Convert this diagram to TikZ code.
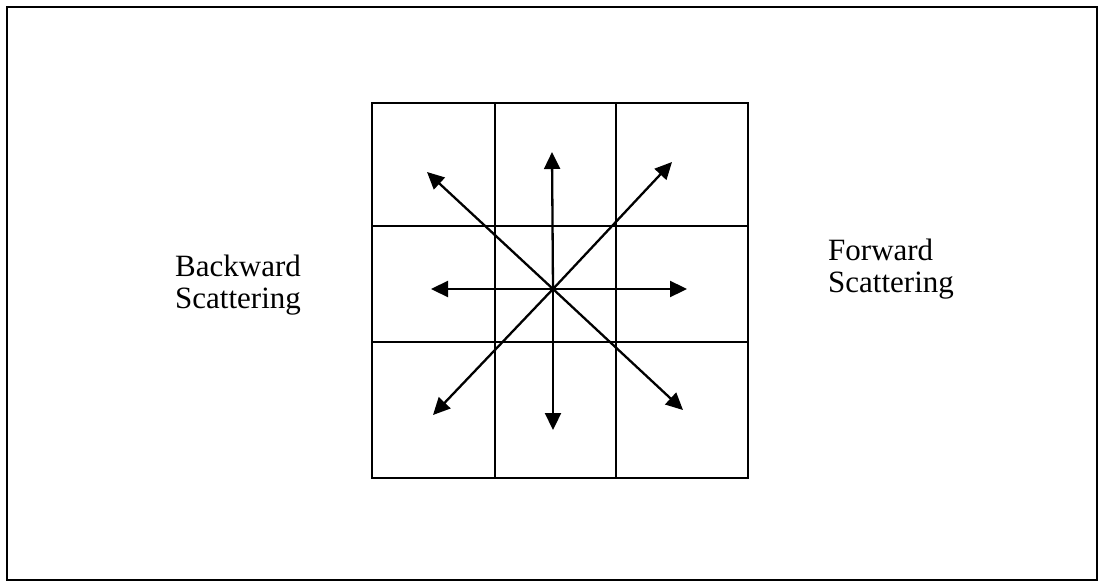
\documentclass[tikz,border=0pt]{standalone}
\usepackage{fontspec}
\setmainfont{Liberation Serif}
\usetikzlibrary{arrows.meta}
\tikzset{
  frame/.style={line width=2.6pt},
  gridline/.style={line width=2.6pt},
  scatter/.style={-{Triangle[length=17pt, width=16pt]}, line width=2.3pt},
  sidelabel/.style={font=\fontsize{31}{32}\selectfont, align=left, inner sep=0pt, anchor=base west},
}

\begin{document}
\begin{tikzpicture}[x=1pt, y=-1pt]

  \useasboundingbox (0,0) rectangle (1100,583);

  % Outer frame
  \draw[frame] (7,7) rectangle (1097,580);

  % Lattice cells
  \draw[gridline] (372,103) rectangle (748,478);
  \draw[gridline] (495,103) -- (495,478);
  \draw[gridline] (616,103) -- (616,478);
  \draw[gridline] (372,226) -- (748,226);
  \draw[gridline] (372,342) -- (748,342);

  % Centre and arrow tips
  \coordinate (c)    at (553,289);
  \coordinate (tipN)  at (552,152);
  \coordinate (tipS)  at (553,430);
  \coordinate (tipW)  at (431,289);
  \coordinate (tipE)  at (687,289);
  \coordinate (tipNW) at (427,172);
  \coordinate (tipNE) at (672,162);
  \coordinate (tipSW) at (433,415);
  \coordinate (tipSE) at (683,410);

  % Scattering directions
  \foreach \t in {tipN,tipS,tipW,tipE,tipNW,tipNE,tipSW,tipSE}
    \draw[scatter] (c) -- (\t);

  % Labels (base = last line)
  \node[sidelabel] (back) at (175,308) {Backward\\Scattering};
  \node[sidelabel] (fwd)  at (828,292) {Forward\\Scattering};

\end{tikzpicture}
\end{document}
